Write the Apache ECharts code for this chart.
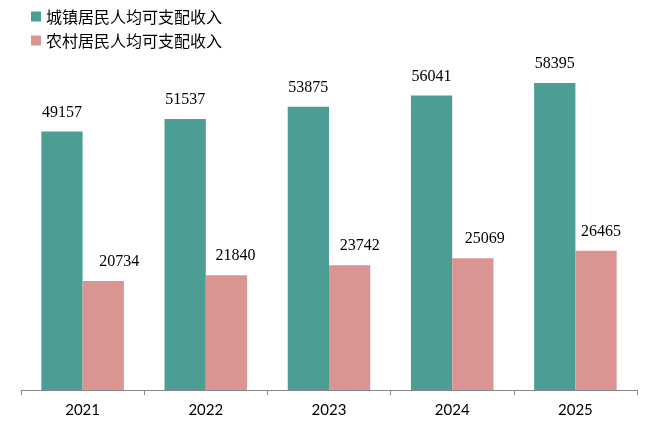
<!DOCTYPE html>
<html>
<head>
<meta charset="utf-8">
<script src="https://cdn.jsdelivr.net/npm/echarts@6/dist/echarts.min.js"></script>
<style>
  html, body { margin: 0; padding: 0; background: #fff; }
  #chart { width: 672px; height: 430px; }
</style>
</head>
<body>
<div id="chart"></div>
<script>
// values
const years = ['2021', '2022', '2023', '2024', '2025']
const urban = [49157, 51537, 53875, 56041, 58395]
const rural = [20734, 21840, 23742, 25069, 26465]
const seriesNames = ['城镇居民人均可支配收入', '农村居民人均可支配收入']

// the rural labels sit a bit right of their bars in the original
const ruralLabelShift = [16, 9, 10, 12, 5]

const chart = echarts.init(document.getElementById('chart'))

const valueLabel = {
  show: true,
  position: 'top',
  distance: 11,
  fontFamily: 'Liberation Serif',
  fontSize: 16,
  color: '#000'
}

chart.setOption({
  animation: false,
  legend: {
    orient: 'vertical',
    left: 31,
    top: 8,
    padding: 0,
    itemWidth: 10,
    itemHeight: 10,
    itemGap: 7,
    icon: 'rect',
    textStyle: { fontFamily: 'Noto Sans CJK SC', fontSize: 16, lineHeight: 17, color: '#000' },
    data: seriesNames
  },
  grid: { left: 21, right: 35, top: 22, bottom: 40 },
  xAxis: {
    type: 'category',
    data: years,
    axisLine: { lineStyle: { color: '#898989' } },
    axisTick: { show: true, length: 5, lineStyle: { color: '#898989' } },
    axisLabel: { fontFamily: 'Lato', fontSize: 15, color: '#000', margin: 13 }
  },
  yAxis: {
    type: 'value',
    min: 0,
    max: 70000,
    show: false,
    splitLine: { show: false }
  },
  series: [
    {
      name: seriesNames[0],
      type: 'bar',
      data: urban,
      barGap: '0%',
      barCategoryGap: '33%',
      itemStyle: { color: '#4c9e94' },
      label: valueLabel
    },
    {
      name: seriesNames[1],
      type: 'bar',
      data: rural.map((v, i) => ({ value: v, label: { offset: [ruralLabelShift[i], 0] } })),
      itemStyle: { color: '#da9593' },
      label: valueLabel
    }
  ]
})
</script>
</body>
</html>
